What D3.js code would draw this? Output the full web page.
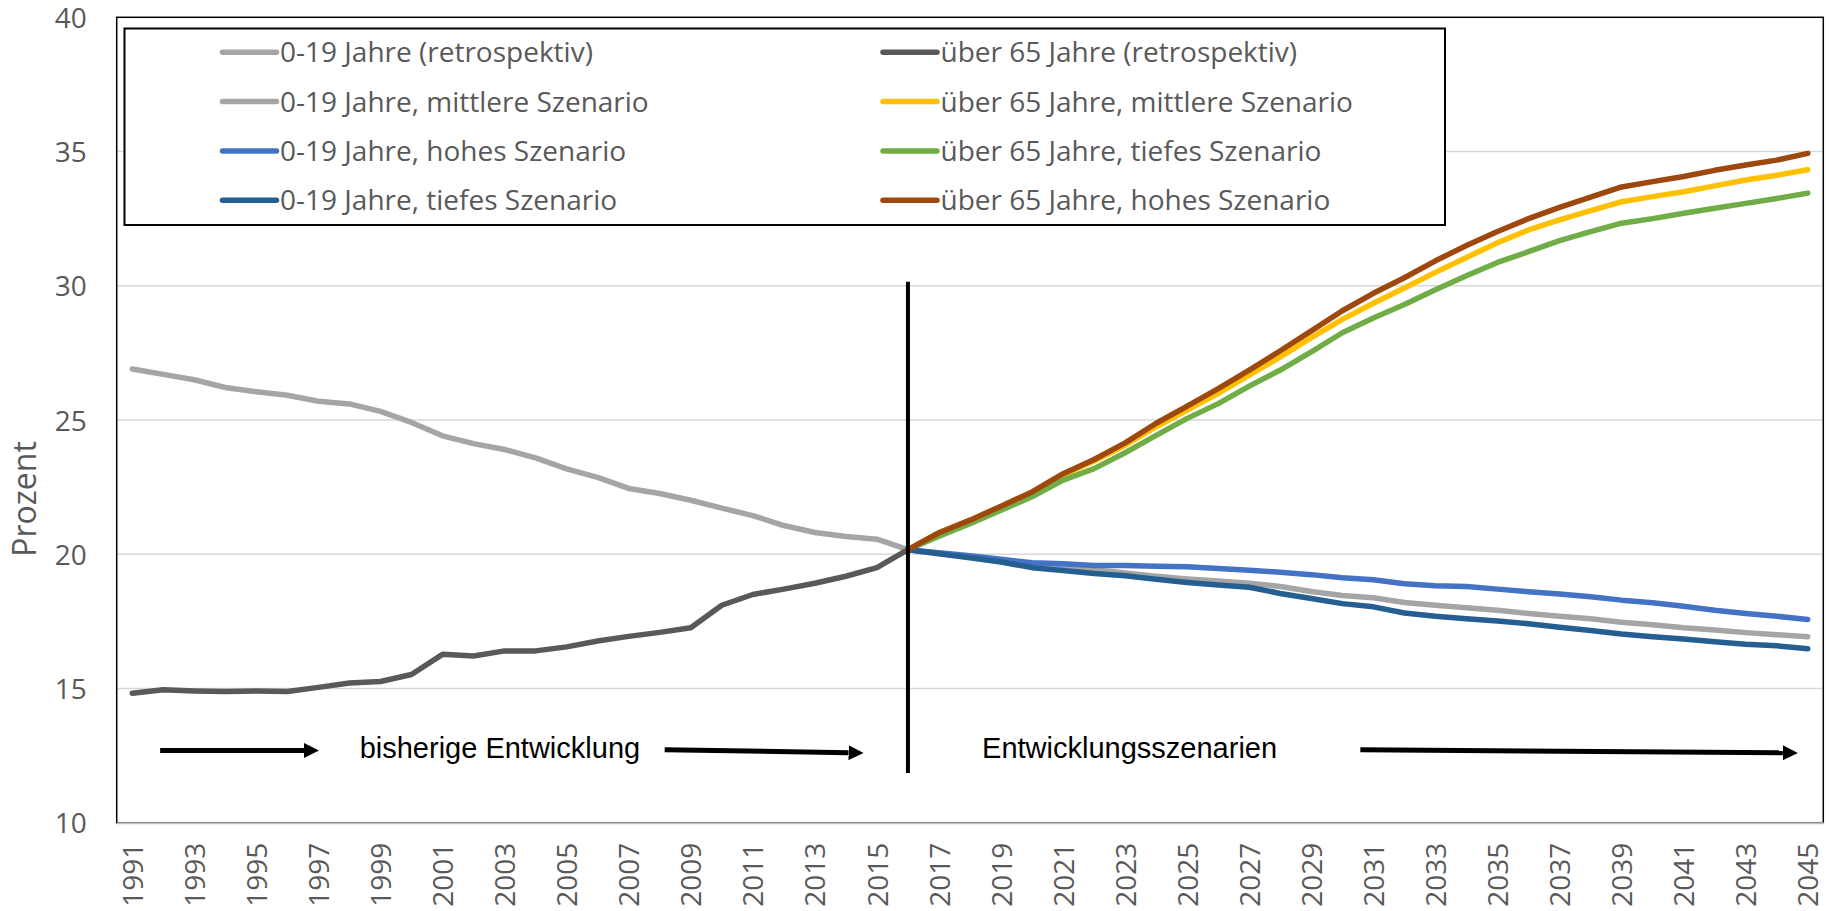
<!DOCTYPE html>
<html>
<head>
<meta charset="utf-8">
<script src="https://cdn.jsdelivr.net/npm/d3@7"></script>
<style>
  body { margin: 0; background: #fff; }
  svg { display: block; }
  .tick text { font-family: "Open Sans", sans-serif; fill: #595959; }
</style>
</head>
<body>
<div class="chart"></div>
<script>
// years on the category axis
const years = d3.range(1991, 2046);
const retroYears = d3.range(1991, 2017);
const scenYears = d3.range(2016, 2046);
const yTicks = [10, 15, 20, 25, 30, 35, 40];

// shares in percent
const jungRetro = [26.9, 26.7, 26.5, 26.21, 26.05, 25.92, 25.7, 25.6, 25.32, 24.91, 24.41, 24.12, 23.9,
  23.59, 23.18, 22.86, 22.45, 22.26, 22.01, 21.72, 21.44, 21.07, 20.81, 20.66, 20.56, 20.17];
const altRetro = [14.82, 14.95, 14.91, 14.89, 14.91, 14.89, 15.04, 15.2, 15.26, 15.52, 16.27, 16.21, 16.4,
  16.4, 16.55, 16.77, 16.94, 17.09, 17.26, 18.1, 18.5, 18.7, 18.92, 19.18, 19.5, 20.17];

const jungMittel = [20.17, 20.03, 19.9, 19.76, 19.6, 19.52, 19.42, 19.3, 19.18, 19.08, 19.0, 18.92, 18.8,
  18.61, 18.46, 18.38, 18.2, 18.1, 18.01, 17.91, 17.79, 17.69, 17.6, 17.47, 17.37, 17.26, 17.18, 17.08, 17.0, 16.93];
const jungHoch = [20.17, 20.06, 19.94, 19.81, 19.68, 19.65, 19.58, 19.58, 19.55, 19.53, 19.47, 19.4, 19.33,
  19.24, 19.12, 19.05, 18.9, 18.83, 18.8, 18.7, 18.6, 18.52, 18.42, 18.29, 18.19, 18.06, 17.91, 17.79, 17.69, 17.57];
const jungTief = [20.17, 20.02, 19.87, 19.71, 19.5, 19.39, 19.28, 19.2, 19.07, 18.95, 18.85, 18.77, 18.54,
  18.35, 18.16, 18.04, 17.81, 17.69, 17.6, 17.51, 17.41, 17.28, 17.16, 17.03, 16.93, 16.84, 16.74, 16.65, 16.59, 16.48];

const altMittel = [20.17, 20.8, 21.26, 21.77, 22.28, 22.95, 23.47, 24.06, 24.75, 25.37, 25.99, 26.67, 27.35,
  28.07, 28.75, 29.35, 29.92, 30.5, 31.05, 31.6, 32.08, 32.45, 32.8, 33.13, 33.32, 33.5, 33.72, 33.94, 34.12, 34.32];
const altTief = [20.17, 20.67, 21.14, 21.64, 22.14, 22.76, 23.19, 23.78, 24.43, 25.06, 25.61, 26.26, 26.86,
  27.54, 28.25, 28.8, 29.3, 29.85, 30.37, 30.87, 31.27, 31.68, 32.02, 32.33, 32.5, 32.7, 32.89, 33.07, 33.25, 33.45];
const altHoch = [20.17, 20.8, 21.27, 21.79, 22.32, 23.0, 23.53, 24.15, 24.88, 25.52, 26.17, 26.86, 27.58,
  28.32, 29.07, 29.72, 30.3, 30.93, 31.5, 32.02, 32.5, 32.92, 33.3, 33.68, 33.88, 34.07, 34.3, 34.5, 34.68, 34.93];

// series in Excel order (legend reads row by row)
const seriesNames = [
  "0-19 Jahre (retrospektiv)", "über 65 Jahre (retrospektiv)",
  "0-19 Jahre, mittlere Szenario", "über 65 Jahre, mittlere Szenario",
  "0-19 Jahre, hohes Szenario", "über 65 Jahre, tiefes Szenario",
  "0-19 Jahre, tiefes Szenario", "über 65 Jahre, hohes Szenario"
];
const seriesColors = ["#A5A5A5", "#595959", "#A5A5A5", "#FFC000", "#4472C4", "#70AD47", "#255E91", "#9E480E"];
const seriesValues = [jungRetro, altRetro, jungMittel, altMittel, jungHoch, altTief, jungTief, altHoch];
const seriesYears = [retroYears, retroYears, scenYears, scenYears, scenYears, scenYears, scenYears, scenYears];

// annotation text and arrows, in year / percent units
const phaseLabels = ["bisherige Entwicklung", "Entwicklungsszenarien"];
const phaseLabelAt = [[1998.33, 12.4], [2018.39, 12.4]];
const arrows = [
  [[1991.9, 12.69], [1997.02, 12.69]],
  [[2008.16, 12.72], [2014.57, 12.6]],
  [[2030.58, 12.72], [2044.68, 12.6]]
];
const splitYear = 2016;
const splitRange = [11.85, 30.15];

const W = 1829, H = 911;
const margin = {top: 17.3, right: 5.7, bottom: 88.3, left: 116.7};
const width = W - margin.left - margin.right;
const height = H - margin.top - margin.bottom;

const svg = d3.select(".chart").append("svg")
  .attr("width", W)
  .attr("height", H);

const g = svg.append("g")
  .attr("transform", `translate(${margin.left},${margin.top})`);

const x = d3.scalePoint()
  .domain(years)
  .range([0, width])
  .padding(0.5);

const xLin = d3.scaleLinear()
  .domain([1991, 2045])
  .range([x(1991), x(2045)]);

const y = d3.scaleLinear()
  .domain([10, 40])
  .range([height, 0]);

// gridlines
g.append("g")
  .selectAll("line")
  .data(yTicks.filter(d => d > 10 && d < 40))
  .join("line")
  .attr("x1", 0)
  .attr("x2", width)
  .attr("y1", d => y(d))
  .attr("y2", d => y(d))
  .attr("stroke", "#D9D9D9")
  .attr("stroke-width", 1.5);

// plot area border
g.append("rect")
  .attr("x", 0)
  .attr("y", 0)
  .attr("width", width)
  .attr("height", height)
  .attr("fill", "none")
  .attr("stroke", "#000")
  .attr("stroke-width", 1.5);

const yAxis = d3.axisLeft(y)
  .tickValues(yTicks)
  .tickSize(0)
  .tickPadding(30);

g.append("g")
  .attr("class", "axis y-axis")
  .call(yAxis)
  .call(a => a.select(".domain").remove())
  .selectAll("text")
  .attr("font-size", 28)
  .attr("dy", "0.36em");

const xAxis = d3.axisBottom(x)
  .tickValues(years.filter(d => d % 2 === 1))
  .tickSize(0)
  .tickFormat(d3.format("d"));

const xg = g.append("g")
  .attr("class", "axis x-axis")
  .attr("transform", `translate(0,${height})`)
  .call(xAxis);

xg.select(".domain")
  .attr("stroke", "#BFBFBF")
  .attr("stroke-width", 2);

xg.selectAll("text")
  .attr("font-size", 28)
  .attr("text-anchor", "end")
  .attr("transform", "rotate(-90)")
  .attr("x", -20)
  .attr("y", 0)
  .attr("dy", "0.36em");

// series lines
const line = d3.line()
  .x(d => x(d[0]))
  .y(d => y(d[1]));

seriesValues.forEach((vals, i) => {
  const pts = seriesYears[i].map((yr, j) => [yr, vals[j]]);
  g.append("path")
    .datum(pts)
    .attr("fill", "none")
    .attr("stroke", seriesColors[i])
    .attr("stroke-width", 5.5)
    .attr("stroke-linejoin", "round")
    .attr("stroke-linecap", "round")
    .attr("d", line);
});

// vertical split line
g.append("line")
  .attr("x1", xLin(splitYear))
  .attr("x2", xLin(splitYear))
  .attr("y1", y(splitRange[0]))
  .attr("y2", y(splitRange[1]))
  .attr("stroke", "#000")
  .attr("stroke-width", 4);

// arrows
svg.append("defs").append("marker")
  .attr("id", "head")
  .attr("viewBox", "0 0 10 10")
  .attr("refX", 0)
  .attr("refY", 5)
  .attr("markerUnits", "userSpaceOnUse")
  .attr("markerWidth", 15)
  .attr("markerHeight", 15)
  .attr("orient", "auto")
  .append("path")
  .attr("d", "M0,0L10,5L0,10Z")
  .attr("fill", "#000");

arrows.forEach(a => {
  const x1 = xLin(a[0][0]), y1 = y(a[0][1]);
  const x2 = xLin(a[1][0]), y2 = y(a[1][1]);
  const len = Math.hypot(x2 - x1, y2 - y1);
  const k = (len - 15) / len;
  g.append("line")
    .attr("x1", x1)
    .attr("y1", y1)
    .attr("x2", x1 + (x2 - x1) * k)
    .attr("y2", y1 + (y2 - y1) * k)
    .attr("stroke", "#000")
    .attr("stroke-width", 5)
    .attr("marker-end", "url(#head)");
});

phaseLabels.forEach((t, i) => {
  g.append("text")
    .attr("x", xLin(phaseLabelAt[i][0]))
    .attr("y", y(phaseLabelAt[i][1]))
    .attr("font-family", "'Liberation Sans', Arial, sans-serif")
    .attr("font-size", 29)
    .attr("fill", "#000")
    .text(t);
});

// y axis title
svg.append("text")
  .attr("transform", "translate(36,499) rotate(-90)")
  .attr("text-anchor", "middle")
  .attr("font-family", "'Open Sans', sans-serif")
  .attr("font-size", 32)
  .attr("fill", "#595959")
  .text("Prozent");

// legend
const legend = svg.append("g");

legend.append("rect")
  .attr("x", 124.5)
  .attr("y", 28.5)
  .attr("width", 1320.5)
  .attr("height", 196.5)
  .attr("fill", "#fff")
  .attr("stroke", "#000")
  .attr("stroke-width", 2);

const colX = [222.5, 883];
const rowY = [52.3, 101.6, 150.9, 200.2];

seriesNames.forEach((name, i) => {
  const cx = colX[i % 2];
  const cy = rowY[Math.floor(i / 2)];
  legend.append("line")
    .attr("x1", cx)
    .attr("x2", cx + 54)
    .attr("y1", cy)
    .attr("y2", cy)
    .attr("stroke", seriesColors[i])
    .attr("stroke-width", 5.5)
    .attr("stroke-linecap", "round");
  legend.append("text")
    .attr("x", cx + 57.5)
    .attr("y", cy)
    .attr("dy", "0.36em")
    .attr("font-family", "'Open Sans', sans-serif")
    .attr("font-size", 28)
    .attr("fill", "#595959")
    .text(name);
});
</script>
</body>
</html>
